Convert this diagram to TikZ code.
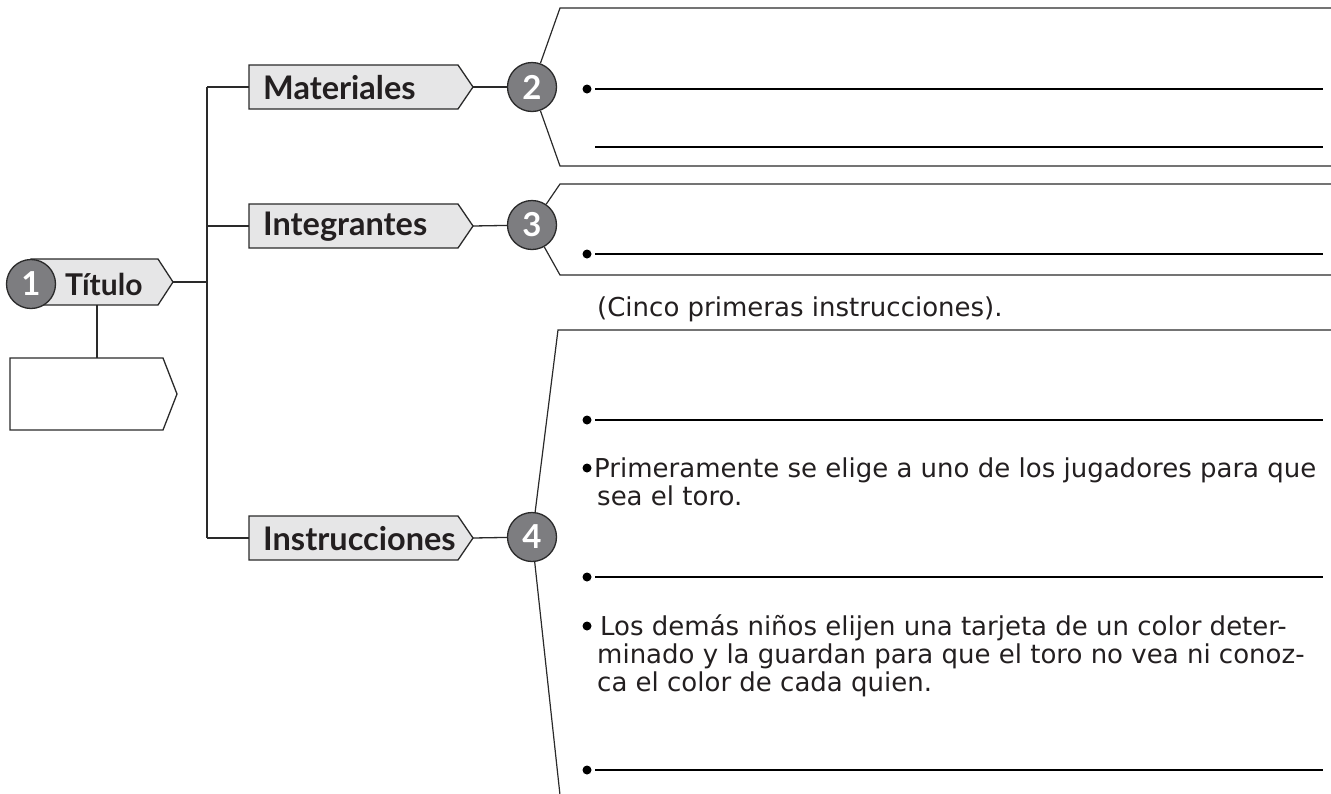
\documentclass[tikz,border=0pt]{standalone}
\usepackage{fontspec}
\setmainfont{DejaVu Sans}
\newfontfamily\labfont{Lato}
\usetikzlibrary{calc}
\definecolor{boxfill}{HTML}{E6E6E7}
\definecolor{circfill}{HTML}{7D7D80}
\definecolor{lnc}{HTML}{2A2A2A}
\definecolor{txt}{HTML}{231F20}
\begin{document}
\begin{tikzpicture}[x=1pt,y=-1pt,
  conn/.style={draw=lnc, line width=1.3pt},
  brk/.style={draw=lnc, line width=1.2pt},
  wline/.style={draw=black, line width=2pt},
  boxshape/.style={draw=lnc, line width=1.3pt, fill=boxfill},
  emptyshape/.style={draw=lnc, line width=1.3pt, fill=white},
  numc/.style={circle, draw=lnc, line width=1.3pt, fill=circfill, minimum size=49pt, inner sep=0pt, text=white, font=\labfont\bfseries\fontsize{33}{33}\selectfont},
  lbl/.style={anchor=west, inner sep=0pt, text=txt, font=\labfont\bfseries\fontsize{32.5}{33}\selectfont},
  tlbl/.style={anchor=west, inner sep=0pt, text=txt, font=\labfont\bfseries\fontsize{30}{30}\selectfont},
  body/.style={anchor=base west, inner sep=0pt, text=txt, font=\fontsize{26}{27}\selectfont},
  bul/.style={circle, fill=black, minimum size=9pt, inner sep=0pt},
]
\useasboundingbox (0,0) rectangle (1331,793);

% ---- left part: title and empty box
\draw[boxshape] (31,259) -- (158,259) -- (173,282) -- (158,305) -- (31,305) -- cycle;
\coordinate (ttip) at (173,282);
\coordinate (tbot) at (97,305);
\node[tlbl] (ttxt) at (65,284) {Título};
\node[numc] (c1) at (31,284) {1};
\draw[emptyshape] (10,358) -- (163,358) -- (177,394) -- (163,430) -- (10,430) -- cycle;
\coordinate (etop) at (97,358);
\draw[conn] (tbot) -- (etop);

% ---- trunk
\coordinate (tr1) at (207,87);
\coordinate (tr2) at (207,226);
\coordinate (tr3) at (207,538);
\coordinate (trt) at (207,282);
\draw[conn] (tr1) -- (tr3);
\draw[conn] (ttip) -- (trt);

% ---- branch boxes
\draw[boxshape] (249,65) -- (458,65) -- (473,87) -- (458,109) -- (249,109) -- cycle;
\draw[boxshape] (249,204) -- (458,204) -- (473,226) -- (458,248) -- (249,248) -- cycle;
\draw[boxshape] (249,516) -- (458,516) -- (473,538) -- (458,560) -- (249,560) -- cycle;
\coordinate (m1) at (249,87);  \coordinate (mtip) at (473,87);
\coordinate (i1) at (249,226); \coordinate (itip) at (473,226);
\coordinate (s1) at (249,538); \coordinate (stip) at (473,538);
\node[lbl] (mat) at (263,88) {Materiales};
\node[lbl] (int) at (263,227) {Integrantes};
\node[lbl] (ins) at (263,539) {Instrucciones};
\draw[conn] (tr1) -- (m1);
\draw[conn] (tr2) -- (i1);
\draw[conn] (tr3) -- (s1);

% ---- circles
\node[numc] (c2) at (532,87) {2};
\node[numc] (c3) at (532,225) {3};
\node[numc] (c4) at (532,537) {4};
\draw[conn] (mtip) -- (c2);
\draw[conn] (itip) -- (c3);
\draw[conn] (stip) -- (c4);

% ---- brackets
\coordinate (b2t) at (560,8);   \coordinate (b2b) at (560,166);
\coordinate (b3t) at (560,184); \coordinate (b3b) at (560,275);
\coordinate (b4t) at (558,330); \coordinate (b4b) at (560,795);
\coordinate (e2t) at (1331,8);   \coordinate (e2b) at (1331,166);
\coordinate (e3t) at (1331,184); \coordinate (e3b) at (1331,275);
\coordinate (e4t) at (1331,330);
\draw[brk] (e2t) -- (b2t) -- (c2);
\draw[brk] (c2) -- (b2b) -- (e2b);
\draw[brk] (e3t) -- (b3t) -- (c3);
\draw[brk] (c3) -- (b3b) -- (e3b);
\draw[brk] (e4t) -- (b4t) -- (c4);
\draw[brk] (c4) -- (b4b);

% ---- write lines
\node[bul] (p1) at (587,89) {};
\coordinate (l1a) at (595,89);  \coordinate (l1b) at (1323,89);
\draw[wline] (l1a) -- (l1b);
\coordinate (l2a) at (595,147); \coordinate (l2b) at (1323,147);
\draw[wline] (l2a) -- (l2b);
\node[bul] (p3) at (587,254) {};
\coordinate (l3a) at (595,254); \coordinate (l3b) at (1323,254);
\draw[wline] (l3a) -- (l3b);

\node[body] (cinco) at (597,316) {(Cinco primeras instrucciones).};

\node[bul] (p4) at (587,420) {};
\coordinate (l4a) at (595,420); \coordinate (l4b) at (1323,420);
\draw[wline] (l4a) -- (l4b);

\node[bul] (p5) at (587,468) {};
\node[body] (t5a) at (594,477) {Primeramente se elige a uno de los jugadores para que};
\node[body] (t5b) at (597,505) {sea el toro.};

\node[bul] (p6) at (587,577) {};
\coordinate (l6a) at (595,577); \coordinate (l6b) at (1323,577);
\draw[wline] (l6a) -- (l6b);

\node[bul] (p7) at (587,626) {};
\node[body] (t7a) at (600,635) {Los demás niños elijen una tarjeta de un color deter-};
\node[body] (t7b) at (597,663) {minado y la guardan para que el toro no vea ni conoz-};
\node[body] (t7c) at (597,691) {ca el color de cada quien.};

\node[bul] (p8) at (587,770) {};
\coordinate (l8a) at (595,770); \coordinate (l8b) at (1323,770);
\draw[wline] (l8a) -- (l8b);
\end{tikzpicture}
\end{document}
